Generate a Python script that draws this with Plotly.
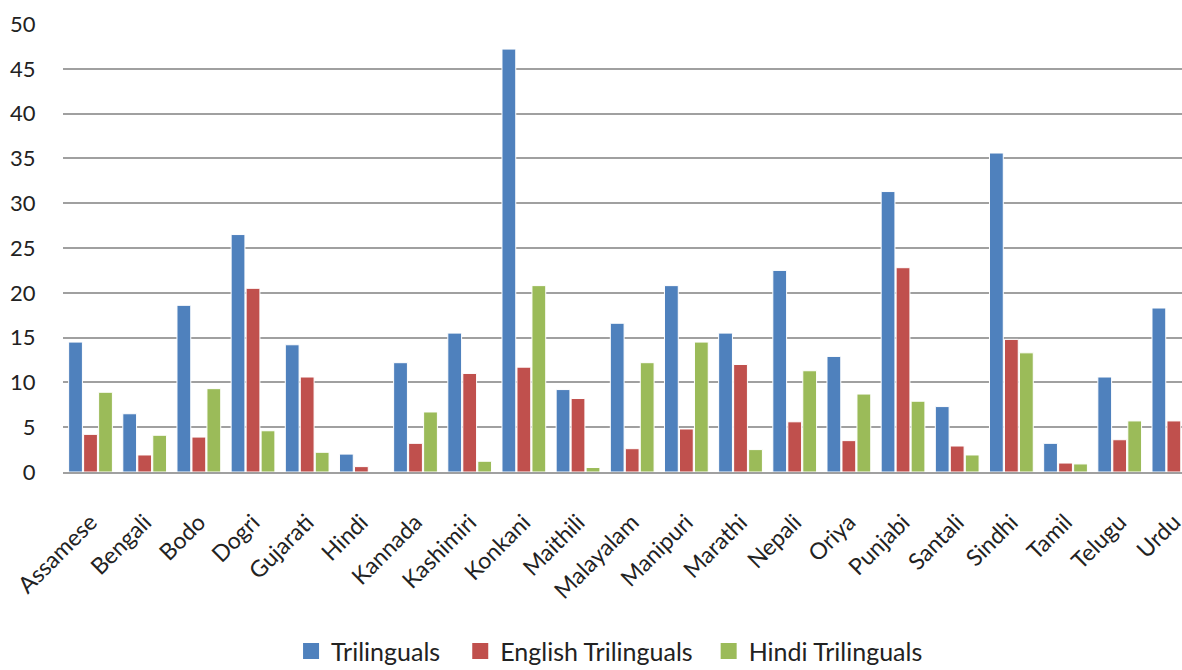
import plotly.graph_objects as go

languages = ["Assamese", "Bengali", "Bodo", "Dogri", "Gujarati", "Hindi", "Kannada",
             "Kashimiri", "Konkani", "Maithili", "Malayalam", "Manipuri", "Marathi",
             "Nepali", "Oriya", "Punjabi", "Santali", "Sindhi", "Tamil", "Telugu", "Urdu"]

trilinguals = [14.5, 6.5, 18.6, 26.5, 14.2, 2.0, 12.2, 15.5, 47.2, 9.2, 16.6, 20.8,
               15.5, 22.5, 12.9, 31.3, 7.3, 35.6, 3.2, 10.6, 18.3]
english_trilinguals = [4.2, 1.9, 3.9, 20.5, 10.6, 0.6, 3.2, 11.0, 11.7, 8.2, 2.6, 4.8,
                       12.0, 5.6, 3.5, 22.8, 2.9, 14.8, 1.0, 3.6, 5.7]
hindi_trilinguals = [8.9, 4.1, 9.3, 4.6, 2.2, None, 6.7, 1.2, 20.8, 0.5, 12.2, 14.5,
                     2.5, 11.3, 8.7, 7.9, 1.9, 13.3, 0.9, 5.7, None]

series = [
    ("Trilinguals", trilinguals, "#4F81BD"),
    ("English Trilinguals", english_trilinguals, "#C0504D"),
    ("Hindi Trilinguals", hindi_trilinguals, "#9BBB59"),
]

FONT = "Lato"
TEXT = "#222222"

fig = go.Figure()
for name, values, color in series:
    fig.add_trace(go.Bar(
        name=name, x=languages, y=values, showlegend=False,
        marker=dict(color=color, line=dict(color="white", width=1)),
    ))

# one legend per series so each entry can sit at its own spot along the bottom
legend_ids = ["legend", "legend2", "legend3"]
legend_x = [0.2038, 0.355, 0.577]
for (name, values, color), lid in zip(series, legend_ids):
    fig.add_trace(go.Scatter(
        name=name, x=[None], y=[None], mode="markers", legend=lid,
        marker=dict(symbol="square", size=16, color=color),
    ))

legend_style = dict(orientation="h", y=-0.40, yanchor="middle", xanchor="left",
                    font=dict(family=FONT, size=25, color=TEXT),
                    itemwidth=30, bgcolor="rgba(0,0,0,0)")

fig.update_layout(
    width=1182, height=670,
    margin=dict(l=63, r=0, t=24, b=198, autoexpand=False),
    paper_bgcolor="white", plot_bgcolor="white",
    barmode="group", bargap=0.17, bargroupgap=0.08,
    font=dict(family=FONT, size=22, color=TEXT),
    showlegend=True,
    legend=dict(x=legend_x[0], **legend_style),
    legend2=dict(x=legend_x[1], **legend_style),
    legend3=dict(x=legend_x[2], **legend_style),
    xaxis=dict(
        type="category", range=[-0.508, 20.15], automargin=False,
        tickangle=-45, tickfont=dict(family=FONT, size=23),
        showline=True, linecolor="#a0a0a0", linewidth=1.5,
        ticks="outside", ticklen=26, tickcolor="rgba(0,0,0,0)",
        showgrid=False,
    ),
    yaxis=dict(
        range=[0, 50], dtick=5, tickfont=dict(family=FONT, size=22), automargin=False,
        showgrid=True, gridcolor="#a0a0a0", gridwidth=1.5,
        zeroline=False, showline=False,
        ticks="outside", ticklen=22, tickcolor="rgba(0,0,0,0)",
    ),
)

fig.write_html("out.html")
